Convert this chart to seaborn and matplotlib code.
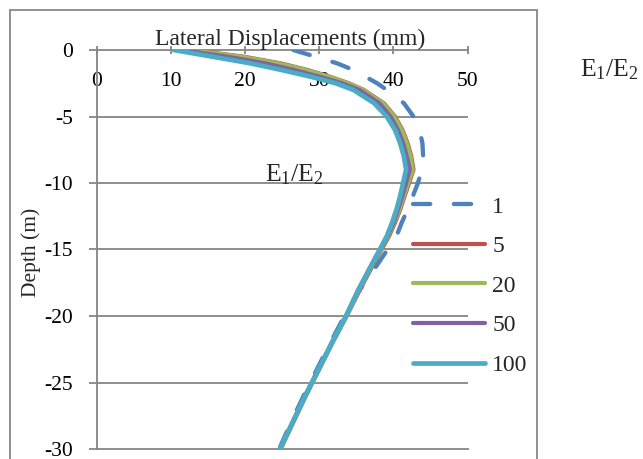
import matplotlib
matplotlib.use("Agg")
import matplotlib.pyplot as plt
import seaborn as sns
import pandas as pd
from matplotlib.patches import Rectangle

# Depth below ground surface (m) at which displacements were sampled
depth = [0, -0.5, -1, -1.5, -2, -2.5, -3, -4, -5, -6, -7, -8, -9, -10,
         -11, -12, -13, -14, -16, -18, -20, -22, -24, -26, -28, -30]

# Lateral displacement (mm) for each stiffness ratio E1/E2
disp_1 = [26.5, 29.5, 32.4, 34.6, 36.2, 37.8, 39.1, 41.4, 42.7, 43.5, 43.9, 44.0,
          43.8, 43.3, 42.6, 41.9, 41.1, 40.4, 38.0, 35.5, 33.4, 31.5, 29.7, 27.9,
          26.2, 24.6]
disp_5 = [12.8, 19.8, 24.8, 28.4, 31.4, 34.0, 36.0, 38.7, 40.2, 41.2, 41.9, 42.4,
          42.7, 42.1, 41.5, 40.9, 40.2, 39.4, 37.4, 35.5, 33.7, 31.8, 30.0, 28.2,
          26.5, 24.8]
disp_20 = [12.5, 19.5, 24.5, 28.2, 31.3, 33.9, 35.9, 38.6, 40.1, 41.1, 41.8, 42.3,
           42.6, 42.0, 41.4, 40.8, 40.1, 39.3, 37.3, 35.4, 33.7, 31.8, 30.0, 28.2,
           26.5, 24.8]
disp_50 = [11.5, 17.6, 22.7, 26.6, 30.0, 33.1, 35.4, 38.1, 39.6, 40.6, 41.3, 41.8,
           42.2, 41.7, 41.2, 40.6, 40.0, 39.2, 37.2, 35.3, 33.6, 31.7, 29.9, 28.1,
           26.4, 24.7]
disp_100 = [10.4, 15.6, 20.7, 24.9, 28.8, 32.2, 34.6, 37.4, 39.1, 40.2, 40.9, 41.4,
            41.7, 41.3, 40.9, 40.4, 39.8, 39.1, 37.2, 35.3, 33.6, 31.7, 29.9, 28.1,
            26.4, 24.7]

ratios = ["1", "5", "20", "50", "100"]
series = [disp_1, disp_5, disp_20, disp_50, disp_100]
colors = ["#4F81BD", "#C0504D", "#9BBB59", "#8064A2", "#4BACC6"]
widths = [3.1, 3.0, 3.0, 3.0, 3.4]

x_ticks = [0, 10, 20, 30, 40, 50]
y_ticks = [0, -5, -10, -15, -20, -25, -30]

frames = []
for r, vals in zip(ratios, series):
    frames.append(pd.DataFrame({"depth": depth, "disp": vals, "ratio": r}))
df = pd.concat(frames, ignore_index=True)

sns.set_theme(style="white")
plt.rcParams["font.family"] = ["Liberation Serif", "DejaVu Serif"]
plt.rcParams["mathtext.fontset"] = "custom"
plt.rcParams["mathtext.rm"] = "Liberation Serif"
plt.rcParams["mathtext.it"] = "Liberation Serif:italic"

W, H = 643, 459
fig = plt.figure(figsize=(W / 100, H / 100), dpi=100)
fig.patch.set_facecolor("white")

left, right, top, bottom = 96.5, 467.7, 50.0, 449.0
ax = fig.add_axes([left / W, 1 - bottom / H, (right - left) / W, (bottom - top) / H])
ax.set_facecolor("white")

gray = "#868686"
fs_tick = 15.5
fs_big = 17

handles = []
for r, c, lw in zip(ratios, colors, widths):
    sub = df[df["ratio"] == r]
    sns.lineplot(data=sub, x="disp", y="depth", sort=False, estimator=None,
                 color=c, lw=lw, ax=ax, label=r, legend=False)
    line = ax.get_lines()[-1]
    line.set_solid_capstyle("round")
    line.set_solid_joinstyle("round")
    if r == "1":
        line.set_linestyle((0, (4.0, 5.5)))
        line.set_dash_capstyle("round")
    handles.append(line)

ax.set_xlim(0, 50)
ax.set_ylim(-30, 0)
ax.set_xticks(x_ticks)
ax.set_yticks(y_ticks)
ax.set_yticklabels([str(v) for v in y_ticks])
ax.set_xlabel("")
ax.set_ylabel("")

# horizontal gridlines
for v in y_ticks[1:-1]:
    ax.axhline(v, color=gray, lw=1.3, zorder=0.5)

ax.spines["right"].set_visible(False)
for side in ["left", "top", "bottom"]:
    ax.spines[side].set_color(gray)
    ax.spines[side].set_linewidth(1.3)
    ax.spines[side].set_zorder(0.6)

ax.xaxis.set_ticks_position("top")
ax.tick_params(axis="x", which="major", direction="inout", length=6, width=1.3,
               color=gray, labeltop=True, labelbottom=False, pad=-18.8,
               labelsize=fs_tick, labelcolor="black")
ax.tick_params(axis="y", which="major", direction="out", length=6, width=1.3,
               color=gray, left=True, pad=11, labelsize=fs_tick, labelcolor="black")
for lab in ax.get_xticklabels():
    lab.set_verticalalignment("top")

fig.text(290 / W, 1 - 45.5 / H, "Lateral Displacements (mm)", ha="center",
         va="baseline", fontsize=fs_big)
fig.text(31 / W, 1 - 252 / H, "Depth (m)", ha="center", va="center",
         rotation=90, fontsize=fs_tick)

leg = ax.legend(handles=handles, labels=ratios, loc="upper left",
                bbox_to_anchor=(413 / W, 1 - 196 / H), bbox_transform=fig.transFigure,
                frameon=False, fontsize=fs_big, handlelength=3.05, handletextpad=0.3,
                labelspacing=0.765, borderaxespad=0, borderpad=0)
leg.set_zorder(5)

ttl = r"E$_1$/E$_2$"
fig.text(294 / W, 1 - 181.5 / H, ttl, ha="center", va="baseline", fontsize=18.5)
fig.text(609 / W, 1 - 76 / H, ttl, ha="center", va="baseline", fontsize=18.5)

# outer chart border
fig.add_artist(Rectangle((10 / W, -0.2), (537 - 10) / W, (H - 10) / H + 0.2,
                         transform=fig.transFigure, fill=False, edgecolor="#888888",
                         lw=1.3, clip_on=False))

fig.savefig("out.png", dpi=100, facecolor="white")
